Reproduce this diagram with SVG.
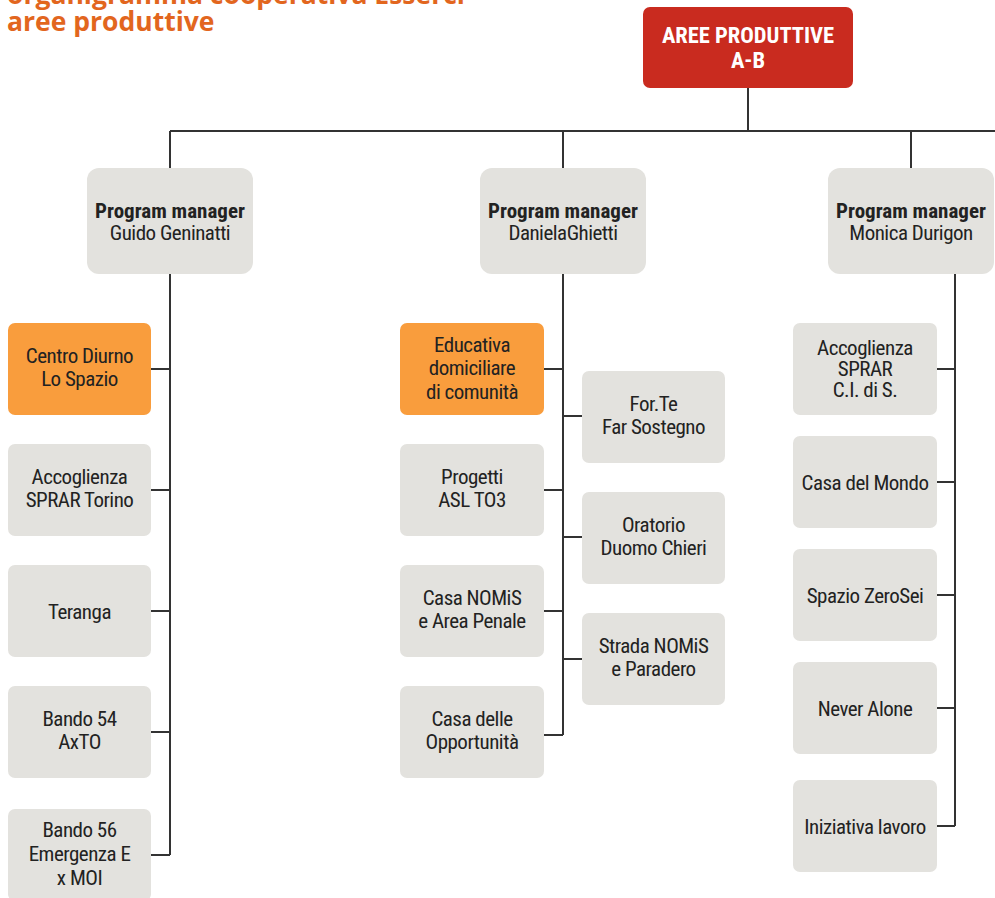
<svg xmlns="http://www.w3.org/2000/svg" width="995" height="898" viewBox="0 0 995 898">
<style>
.t{font-family:"Liberation Sans Narrow","Roboto Condensed","Arial Narrow",Roboto,"Liberation Sans",sans-serif;font-size:21px;fill:#222;text-anchor:middle;letter-spacing:-0.5px}
.b{font-weight:bold;letter-spacing:0}
.g{fill:#E3E2DE}
.o{fill:#F99D3D}
.c{fill:none;stroke:#333;stroke-width:2}
.w{fill:#fff;font-size:22.5px}
.title{font-family:"Open Sans","Noto Sans",sans-serif;font-weight:bold;font-size:26.5px;fill:#E2661E}
</style>
<rect width="995" height="898" fill="#fff"/>
<g id="title">
<text class="title" x="7" y="4">organigramma cooperativa Esserci</text>
<text class="title" x="7" y="31">aree produttive</text>
</g>
<g id="connectors">
<path class="c" d="M748 88V131M170 131H995M170 131V168M563 131V168M911 131V168"/>
<path class="c" d="M170 274V855M151 369H170M151 490H170M151 611H170M151 732H170M151 855H170"/>
<path class="c" d="M563 274V735M544 369H563M544 490H563M544 611H563M544 735H563M563 416H582M563 537H582M563 659H582"/>
<path class="c" d="M955 274V826M937 369H955M937 482H955M937 595H955M937 708H955M937 826H955"/>
</g>
<g id="root">
<rect x="643" y="7" width="210" height="81" rx="7" fill="#C92B1F"/>
<text class="t b w" x="748" y="43">AREE PRODUTTIVE</text>
<text class="t b w" x="748" y="68">A-B</text>
</g>
<g id="pm1">
<rect class="g" x="87" y="168" width="166" height="106" rx="12"/>
<text class="t b" x="170" y="218">Program manager</text>
<text class="t" x="170" y="240">Guido Geninatti</text>
</g>
<g id="pm2">
<rect class="g" x="480" y="168" width="166" height="106" rx="12"/>
<text class="t b" x="563" y="218">Program manager</text>
<text class="t" x="563" y="240">DanielaGhietti</text>
</g>
<g id="pm3">
<rect class="g" x="828" y="168" width="166" height="106" rx="12"/>
<text class="t b" x="911" y="218">Program manager</text>
<text class="t" x="911" y="240">Monica Durigon</text>
</g>
<g id="centro-diurno">
<rect class="o" x="8" y="323" width="143" height="92" rx="7"/>
<text class="t" x="79.5" y="363">Centro Diurno</text>
<text class="t" x="79.5" y="386">Lo Spazio</text>
</g>
<g id="sprar-torino">
<rect class="g" x="8" y="444" width="143" height="92" rx="7"/>
<text class="t" x="79.5" y="484">Accoglienza</text>
<text class="t" x="79.5" y="507">SPRAR Torino</text>
</g>
<g id="teranga">
<rect class="g" x="8" y="565" width="143" height="92" rx="7"/>
<text class="t" x="79.5" y="619">Teranga</text>
</g>
<g id="bando54">
<rect class="g" x="8" y="686" width="143" height="92" rx="7"/>
<text class="t" x="79.5" y="726">Bando 54</text>
<text class="t" x="79.5" y="749">AxTO</text>
</g>
<g id="bando56">
<rect class="g" x="8" y="809" width="143" height="92" rx="7"/>
<text class="t" x="79.5" y="837">Bando 56</text>
<text class="t" x="79.5" y="861">Emergenza E</text>
<text class="t" x="79.5" y="885">x MOI</text>
</g>
<g id="educativa">
<rect class="o" x="400" y="323" width="144" height="92" rx="7"/>
<text class="t" x="472" y="352">Educativa</text>
<text class="t" x="472" y="375">domiciliare</text>
<text class="t" x="472" y="399">di comunità</text>
</g>
<g id="asl-to3">
<rect class="g" x="400" y="444" width="144" height="92" rx="7"/>
<text class="t" x="472" y="484">Progetti</text>
<text class="t" x="472" y="507">ASL TO3</text>
</g>
<g id="casa-nomis">
<rect class="g" x="400" y="565" width="144" height="92" rx="7"/>
<text class="t" x="472" y="605">Casa NOMiS</text>
<text class="t" x="472" y="628">e Area Penale</text>
</g>
<g id="casa-opportunita">
<rect class="g" x="400" y="686" width="144" height="92" rx="7"/>
<text class="t" x="472" y="726">Casa delle</text>
<text class="t" x="472" y="749">Opportunità</text>
</g>
<g id="forte">
<rect class="g" x="582" y="371" width="143" height="92" rx="7"/>
<text class="t" x="653.5" y="411">For.Te</text>
<text class="t" x="653.5" y="434">Far Sostegno</text>
</g>
<g id="oratorio">
<rect class="g" x="582" y="492" width="143" height="92" rx="7"/>
<text class="t" x="653.5" y="532">Oratorio</text>
<text class="t" x="653.5" y="555">Duomo Chieri</text>
</g>
<g id="strada-nomis">
<rect class="g" x="582" y="613" width="143" height="92" rx="7"/>
<text class="t" x="653.5" y="653">Strada NOMiS</text>
<text class="t" x="653.5" y="676">e Paradero</text>
</g>
<g id="sprar-ci">
<rect class="g" x="793" y="323" width="144" height="92" rx="7"/>
<text class="t" x="865" y="355">Accoglienza</text>
<text class="t" x="865" y="376">SPRAR</text>
<text class="t" x="865" y="397">C.I. di S.</text>
</g>
<g id="casa-mondo">
<rect class="g" x="793" y="436" width="144" height="92" rx="7"/>
<text class="t" x="865" y="490">Casa del Mondo</text>
</g>
<g id="zerosei">
<rect class="g" x="793" y="549" width="144" height="92" rx="7"/>
<text class="t" x="865" y="603">Spazio ZeroSei</text>
</g>
<g id="never-alone">
<rect class="g" x="793" y="662" width="144" height="92" rx="7"/>
<text class="t" x="865" y="716">Never Alone</text>
</g>
<g id="iniziativa-lavoro">
<rect class="g" x="793" y="780" width="144" height="92" rx="7"/>
<text class="t" x="865" y="834">Iniziativa lavoro</text>
</g>
</svg>
